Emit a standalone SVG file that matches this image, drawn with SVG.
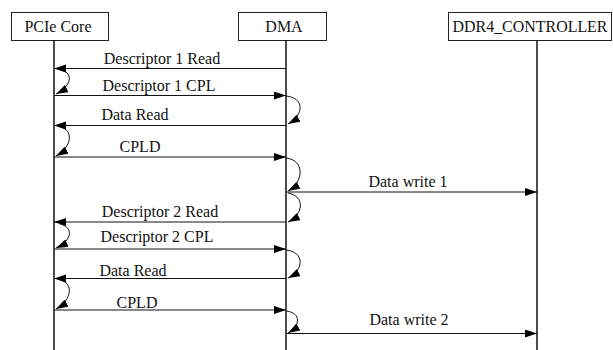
<svg xmlns="http://www.w3.org/2000/svg" width="613" height="350" viewBox="0 0 613 350">
<style>
.box{fill:#fff;stroke:#222;stroke-width:1}
.life{stroke:#000;stroke-width:1.4}
.msg{stroke:#111;stroke-width:1;fill:none}
.loop{stroke:#111;stroke-width:1;fill:none}
text{font-family:"Liberation Serif","Times New Roman",serif;font-size:16px;fill:#111}
.lbl{text-anchor:middle}
</style>
<defs>
<marker id="ah" markerUnits="userSpaceOnUse" markerWidth="13" markerHeight="9" refX="12" refY="4" orient="auto">
<path d="M0,0 L12,4 L0,8 z" fill="#000"/>
</marker>
</defs>
<rect width="613" height="350" fill="#fff"/>
<g id="pcie">
<rect class="box" x="11.5" y="12.5" width="97" height="28"/>
<text class="lbl" x="58" y="32">PCIe Core</text>
<line class="life" x1="54" y1="40" x2="54" y2="350"/>
</g>
<g id="dma">
<rect class="box" x="238.5" y="12.5" width="88" height="28"/>
<text class="lbl" x="284" y="32">DMA</text>
<line class="life" x1="286" y1="40" x2="286" y2="350"/>
</g>
<g id="ddr4">
<rect class="box" x="448.5" y="12.5" width="163" height="28"/>
<text class="lbl" x="530" y="32" textLength="155" lengthAdjust="spacingAndGlyphs">DDR4_CONTROLLER</text>
<line class="life" x1="537" y1="40" x2="537" y2="350"/>
</g>
<g id="connectors">
<line class="msg" x1="286" y1="68.5" x2="54" y2="68.5" marker-end="url(#ah)"/>
<path class="loop" d="M60 70 C74 72,72 86,56 94" marker-end="url(#ah)"/>
<line class="msg" x1="54" y1="95.5" x2="286" y2="95.5" marker-end="url(#ah)"/>
<path class="loop" d="M286 96 C305 98,304 115,288 124" marker-end="url(#ah)"/>
<line class="msg" x1="286" y1="125.5" x2="54" y2="125.5" marker-end="url(#ah)"/>
<path class="loop" d="M60 127 C74 130,72 147,56 156" marker-end="url(#ah)"/>
<line class="msg" x1="54" y1="157" x2="286" y2="157" marker-end="url(#ah)"/>
<path class="loop" d="M286 158 C305 160,304 182,288 191" marker-end="url(#ah)"/>
<line class="msg" x1="286" y1="192" x2="537" y2="192" marker-end="url(#ah)"/>
<path class="loop" d="M288 193 C305 196,304 214,288 222" marker-end="url(#ah)"/>
<line class="msg" x1="286" y1="222" x2="54" y2="222" marker-end="url(#ah)"/>
<path class="loop" d="M60 224 C74 227,72 241,56 248" marker-end="url(#ah)"/>
<line class="msg" x1="54" y1="249" x2="286" y2="249" marker-end="url(#ah)"/>
<path class="loop" d="M286 250 C305 252,304 270,288 278" marker-end="url(#ah)"/>
<line class="msg" x1="286" y1="278.5" x2="54" y2="278.5" marker-end="url(#ah)"/>
<path class="loop" d="M60 280 C74 283,72 300,56 309" marker-end="url(#ah)"/>
<line class="msg" x1="54" y1="310" x2="286" y2="310" marker-end="url(#ah)"/>
<path class="loop" d="M286 311 C302 313,300 326,288 333" marker-end="url(#ah)"/>
<line class="msg" x1="286" y1="333.5" x2="537" y2="333.5" marker-end="url(#ah)"/>
</g>
<g id="labels">
<text class="lbl" x="162" y="64">Descriptor 1 Read</text>
<text class="lbl" x="159" y="91">Descriptor 1 CPL</text>
<text class="lbl" x="135" y="120">Data Read</text>
<text class="lbl" x="140" y="152">CPLD</text>
<text class="lbl" x="408" y="187">Data write 1</text>
<text class="lbl" x="160" y="217">Descriptor 2 Read</text>
<text class="lbl" x="157" y="242">Descriptor 2 CPL</text>
<text class="lbl" x="133" y="276">Data Read</text>
<text class="lbl" x="137" y="308">CPLD</text>
<text class="lbl" x="409" y="325">Data write 2</text>
</g>
</svg>
